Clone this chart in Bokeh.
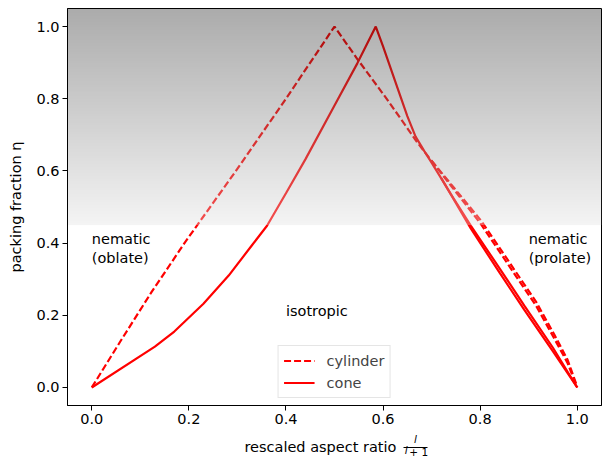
import numpy as np
from bokeh.plotting import figure
from bokeh.models import (Range1d, Legend, LegendItem, PrintfTickFormatter, FixedTicker,
                          ColumnDataSource, LinearAxis)
from bokeh.embed import file_html
from bokeh.resources import INLINE
from bokeh.core.properties import value

# ---- data ----
cyl_x = [0.0, 0.06, 0.123, 0.192, 0.299, 0.40, 0.50, 0.547, 0.609, 0.671, 0.74, 0.802, 0.86, 0.915, 0.953, 0.98, 1.0]
cyl_y = [0.0, 0.13, 0.264, 0.402, 0.604, 0.80, 1.00, 0.91, 0.797, 0.678, 0.559, 0.452, 0.336, 0.227, 0.135, 0.068, 0.0]
cyl2_x = [0.70, 0.75, 0.802, 0.86, 0.915, 0.953, 0.98, 1.0]
cyl2_y = [0.628, 0.547, 0.462, 0.347, 0.238, 0.146, 0.077, 0.002]

cone_x = [0.0, 0.13, 0.17, 0.23, 0.282, 0.33, 0.361, 0.40, 0.44, 0.50, 0.547, 0.585,
          0.60, 0.636, 0.65, 0.667, 0.685, 0.70, 0.74, 0.781, 0.84, 0.891, 0.95, 1.0]
cone_y = [0.0, 0.113, 0.155, 0.232, 0.31, 0.394, 0.448, 0.538, 0.632, 0.781, 0.898, 1.0,
          0.945, 0.806, 0.752, 0.695, 0.655, 0.623, 0.535, 0.448, 0.33, 0.227, 0.11, 0.0]
cone2_x = [0.72, 0.781, 0.84, 0.891, 0.95, 1.0]
cone2_y = [0.58, 0.44, 0.318, 0.215, 0.10, 0.0]

region_labels = ["nematic", "(oblate)", "nematic", "(prolate)", "isotropic"]
region_x = [0.0, 0.0, 0.9, 0.9, 0.40]
region_y = [0.411, 0.359, 0.411, 0.359, 0.212]

x_ticks = [0.0, 0.2, 0.4, 0.6, 0.8, 1.0]
y_ticks = [0.0, 0.2, 0.4, 0.6, 0.8, 1.0]

FONT = "DejaVu Sans"
FS = "14.5px"

p = figure(width=606, height=460, output_backend="svg", toolbar_location=None,
           x_range=Range1d(-0.05, 1.05), y_range=Range1d(-0.05, 1.05),
           min_border_left=67, min_border_right=5, min_border_top=8, min_border_bottom=53)
p.background_fill_color = "white"
p.border_fill_color = "white"
p.outline_line_color = "black"
p.outline_line_width = 1
p.xgrid.visible = False
p.ygrid.visible = False

lc = "#ff0000"
LW = 2.2
r_cyl = p.line(cyl_x, cyl_y, line_color=lc, line_width=LW, line_dash="7 3")
p.line(cyl2_x, cyl2_y, line_color=lc, line_width=LW, line_dash="7 3")
r_cone = p.line(cone_x, cone_y, line_color=lc, line_width=LW)
p.line(cone2_x, cone2_y, line_color=lc, line_width=LW)

# gradient overlay (styling), drawn above the lines
N = 256
t = np.linspace(0, 1, N)
A = 0.35
g = 224 - t * (224 - 15)
img = np.zeros((N, 1, 4), dtype=np.uint8)
img[:, 0, 0] = g.astype(np.uint8)
img[:, 0, 1] = g.astype(np.uint8)
img[:, 0, 2] = g.astype(np.uint8)
img[:, 0, 3] = int(A * 255)
img32 = img.view(dtype=np.uint32).reshape((N, 1))
p.image_rgba(image=[img32], x=-0.05, y=0.45, dw=1.1, dh=0.6)

src = ColumnDataSource(dict(x=region_x, y=region_y, t=region_labels))
p.text(x="x", y="y", text="t", source=src, text_font=value(FONT), text_font_size=FS,
       text_align="left", text_baseline="middle", text_color="black")

legend = Legend(items=[LegendItem(label="cylinder", renderers=[r_cyl]),
                       LegendItem(label="cone", renderers=[r_cone])],
                location="bottom_center")
legend.label_text_font = FONT
legend.label_text_font_size = FS
legend.border_line_color = "#cccccc"
legend.border_line_width = 1
legend.background_fill_alpha = 0.8
legend.glyph_width = 31
legend.glyph_height = 19
legend.label_height = 19
legend.label_standoff = 12
legend.padding = 5
legend.spacing = 3
legend.margin = 7
p.add_layout(legend, "center")

for ax in (p.xaxis[0], p.yaxis[0]):
    ax.major_label_text_font = FONT
    ax.major_label_text_font_size = FS
    ax.major_label_text_color = "black"
    ax.axis_label_text_font = FONT
    ax.axis_label_text_font_size = FS
    ax.axis_label_text_font_style = "normal"
    ax.axis_label_text_color = "black"
    ax.major_tick_in = 0
    ax.major_tick_out = 5
    ax.minor_tick_line_color = None
    ax.axis_line_color = "black"
    ax.major_tick_line_color = "black"
    ax.formatter = PrintfTickFormatter(format="%.1f")
    ax.major_label_standoff = 3

p.xaxis[0].ticker = FixedTicker(ticks=x_ticks)
p.yaxis[0].ticker = FixedTicker(ticks=y_ticks)
p.yaxis[0].axis_label = "packing fraction η"
p.yaxis[0].axis_label_standoff = 9

# x-axis title "rescaled aspect ratio  l/(l+1)", set as rows of extra (tick-less) axes below
def text_row(x, text, size, standoff, style="normal", bounds=None):
    ax = LinearAxis(ticker=FixedTicker(ticks=[] if text is None else [x]),
                    formatter=PrintfTickFormatter(format=text or "%s"))
    if bounds is not None:
        ax.bounds = bounds
        ax.axis_line_color = "black"
        ax.axis_line_width = 1
    else:
        ax.axis_line_color = None
    ax.major_tick_line_color = None
    ax.minor_tick_line_color = None
    ax.major_tick_in = 0
    ax.major_tick_out = 0
    ax.minor_tick_in = 0
    ax.minor_tick_out = 0
    ax.major_label_standoff = standoff
    ax.major_label_text_font = FONT
    ax.major_label_text_font_size = size
    ax.major_label_text_font_style = style
    ax.major_label_text_color = "black"
    p.add_layout(ax, "below")

text_row(0.667, "l", "10.5px", 6, "italic")                      # numerator
text_row(None, None, "10.5px", 0, bounds=(0.643, 0.692))         # fraction bar
text_row(0.471, "rescaled aspect ratio", FS, -9)                 # main title text
text_row(0.6477, "l", "10.5px", -14, "italic")                   # denominator l
text_row(0.6734, "+ 1", "10.5px", -13)                           # denominator + 1

open("out.html", "w").write(file_html(p, INLINE))
